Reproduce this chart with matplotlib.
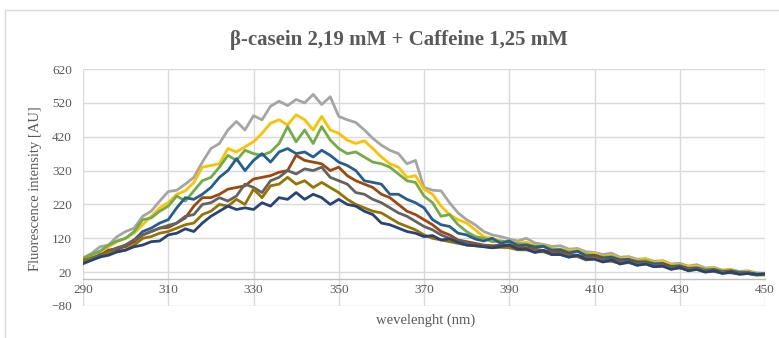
import matplotlib
matplotlib.use("Agg")
import matplotlib.pyplot as plt
from matplotlib.patches import Rectangle

# Emission spectra, wavelength in nm (2 nm steps)
wavelength = list(range(290, 452, 2))

s_gray = [62, 75, 95, 100, 125, 140, 150, 185, 200, 230, 258, 262, 280, 300, 345, 385, 400, 440, 465, 440,
          482, 470, 510, 525, 512, 530, 520, 545, 515, 538, 480, 470, 462, 440, 415, 395, 380, 370, 340, 350,
          270, 262, 260, 225, 195, 175, 160, 140, 130, 125,
          118, 112, 120, 106, 102, 96, 98, 88, 90, 80, 78, 72, 76, 64, 66, 58, 60, 52, 54, 44,
          46, 38, 42, 32, 34, 26, 28, 22, 24, 18, 17]
s_yellow = [58, 70, 80, 95, 110, 120, 135, 160, 185, 210, 225, 250, 260, 285, 330, 335, 340, 385, 375, 390,
            405, 430, 460, 470, 455, 485, 470, 440, 480, 440, 430, 410, 400, 408, 385, 360, 340, 330, 300, 305,
            265, 250, 215, 190, 175, 165, 145, 125, 120, 112,
            110, 106, 108, 98, 100, 90, 88, 84, 86, 74, 76, 66, 70, 60, 62, 54, 60, 48, 52, 42,
            42, 36, 38, 28, 32, 24, 28, 18, 22, 16, 16]
s_green = [60, 72, 82, 100, 112, 120, 140, 175, 180, 200, 215, 245, 230, 260, 290, 300, 330, 365, 350, 380,
           370, 365, 375, 400, 450, 405, 440, 400, 450, 410, 385, 370, 375, 360, 345, 340, 330, 310, 290, 285,
           245, 225, 185, 190, 160, 140, 125, 120, 110, 112,
           108, 104, 102, 96, 98, 88, 86, 80, 82, 72, 70, 64, 66, 58, 56, 52, 54, 46, 44, 38,
           40, 32, 34, 28, 28, 24, 24, 20, 20, 15, 16]
s_blue = [50, 58, 72, 75, 85, 100, 115, 140, 150, 165, 175, 210, 240, 235, 250, 270, 300, 320, 355, 320,
          350, 370, 345, 375, 385, 370, 375, 360, 380, 365, 345, 335, 320, 290, 285, 280, 250, 250, 235, 225,
          210, 175, 160, 155, 135, 130, 118, 112, 120, 105,
          112, 98, 100, 94, 96, 84, 86, 76, 82, 68, 70, 62, 64, 56, 58, 50, 50, 44, 46, 36,
          38, 30, 32, 24, 28, 20, 24, 18, 18, 14, 15]
s_brown = [55, 60, 70, 85, 90, 95, 110, 130, 140, 150, 152, 165, 180, 215, 240, 240, 250, 265, 270, 275,
           295, 300, 305, 315, 320, 365, 350, 345, 340, 320, 330, 305, 290, 280, 270, 250, 240, 220, 200, 190,
           175, 160, 140, 130, 115, 110, 105, 100, 98, 100,
           100, 94, 92, 88, 84, 80, 78, 72, 70, 64, 66, 58, 58, 52, 52, 46, 48, 40, 42, 34,
           36, 30, 30, 24, 26, 20, 22, 16, 18, 13, 13]
s_dkgray = [50, 62, 70, 80, 92, 100, 115, 130, 140, 150, 158, 165, 185, 190, 220, 225, 240, 230, 245, 280,
            270, 255, 290, 300, 320, 310, 325, 320, 330, 300, 290, 280, 255, 250, 235, 225, 210, 195, 185, 170,
            155, 145, 130, 120, 112, 108, 100, 98, 95, 94,
            94, 90, 88, 84, 82, 76, 74, 70, 68, 62, 62, 56, 56, 50, 50, 44, 46, 40, 40, 32,
            34, 28, 30, 24, 24, 20, 20, 16, 16, 13, 13]
s_olive = [55, 58, 65, 78, 80, 85, 100, 120, 125, 135, 140, 150, 160, 165, 190, 200, 220, 215, 235, 220,
           265, 240, 275, 280, 300, 280, 290, 270, 285, 270, 255, 235, 220, 210, 200, 195, 180, 165, 155, 145,
           130, 120, 115, 110, 105, 100, 98, 96, 92, 94,
           92, 86, 86, 80, 80, 72, 72, 66, 66, 56, 60, 52, 52, 46, 48, 42, 44, 36, 38, 30,
           32, 26, 28, 22, 22, 18, 18, 14, 16, 11, 12]
s_navy = [45, 55, 65, 70, 80, 85, 95, 100, 110, 112, 130, 135, 148, 140, 165, 185, 200, 215, 205, 210,
          205, 225, 215, 240, 235, 255, 235, 250, 240, 220, 235, 220, 215, 200, 190, 165, 160, 150, 140, 135,
          125, 128, 115, 118, 108, 100, 98, 95, 92, 96,
          100, 88, 88, 78, 84, 72, 72, 64, 70, 58, 58, 50, 56, 44, 50, 40, 44, 36, 38, 28,
          34, 24, 28, 20, 24, 16, 20, 14, 16, 13, 14]

series = [s_gray, s_yellow, s_green, s_blue, s_brown, s_dkgray, s_olive, s_navy]
colors = ["#A5A5A5", "#FFC000", "#70AD47", "#255E91", "#9E480E", "#636363", "#997300", "#264478"]

x_ticks = [290, 310, 330, 350, 370, 390, 410, 430, 450]
y_ticks = [-80, 20, 120, 220, 320, 420, 520, 620]

title = "β-casein 2,19 mM + Caffeine 1,25 mM"
x_label = "wevelenght (nm)"
y_label = "Fluorescence intensity [AU]"

text_color = "#595959"
grid_color = "#D9D9D9"
font = "Liberation Serif"

W, H = 779, 338
fig = plt.figure(figsize=(W / 100, H / 100), dpi=100)

# chart-area border (only the top and left edges fall inside the image)
fig.patches.append(Rectangle((5 / W, -0.1), 1.2, (338 - 10) / H + 0.1,
                             transform=fig.transFigure, fill=False,
                             edgecolor="#D9D9D9", linewidth=1.0))

ax = fig.add_axes([83 / W, (H - 306) / H, (765 - 83) / W, (306 - 69) / H])

for vals, c in zip(series, colors):
    ax.plot(wavelength, vals, color=c, linewidth=2.0, solid_joinstyle="round")

ax.set_xlim(290, 450)
ax.set_ylim(-80, 620)
ax.set_xticks(x_ticks)
ax.set_yticks(y_ticks)
ax.grid(True, color=grid_color, linewidth=1.0)
ax.set_axisbelow(True)

for side in ["left", "right", "top"]:
    ax.spines[side].set_visible(False)
ax.spines["bottom"].set_position(("data", 0))
ax.spines["bottom"].set_color("#BFBFBF")
ax.spines["bottom"].set_linewidth(1.0)

ax.tick_params(axis="both", length=0, colors=text_color, labelsize=9.5)
ax.tick_params(axis="x", pad=4)
ax.tick_params(axis="y", pad=8)
for lab in ax.get_xticklabels() + ax.get_yticklabels():
    lab.set_fontfamily(font)

fig.text(399 / W, 1 - 40 / H, title, ha="center", va="center",
         fontsize=15, fontweight="bold", color=text_color, family=font)
fig.text(426 / W, 1 - 320 / H, x_label, ha="center", va="center",
         fontsize=10.5, color=text_color, family=font)
fig.text(36 / W, 1 - 189 / H, y_label, ha="center", va="center", rotation=90,
         fontsize=10.5, color=text_color, family=font)

fig.savefig("out.png", dpi=100, facecolor="white")
